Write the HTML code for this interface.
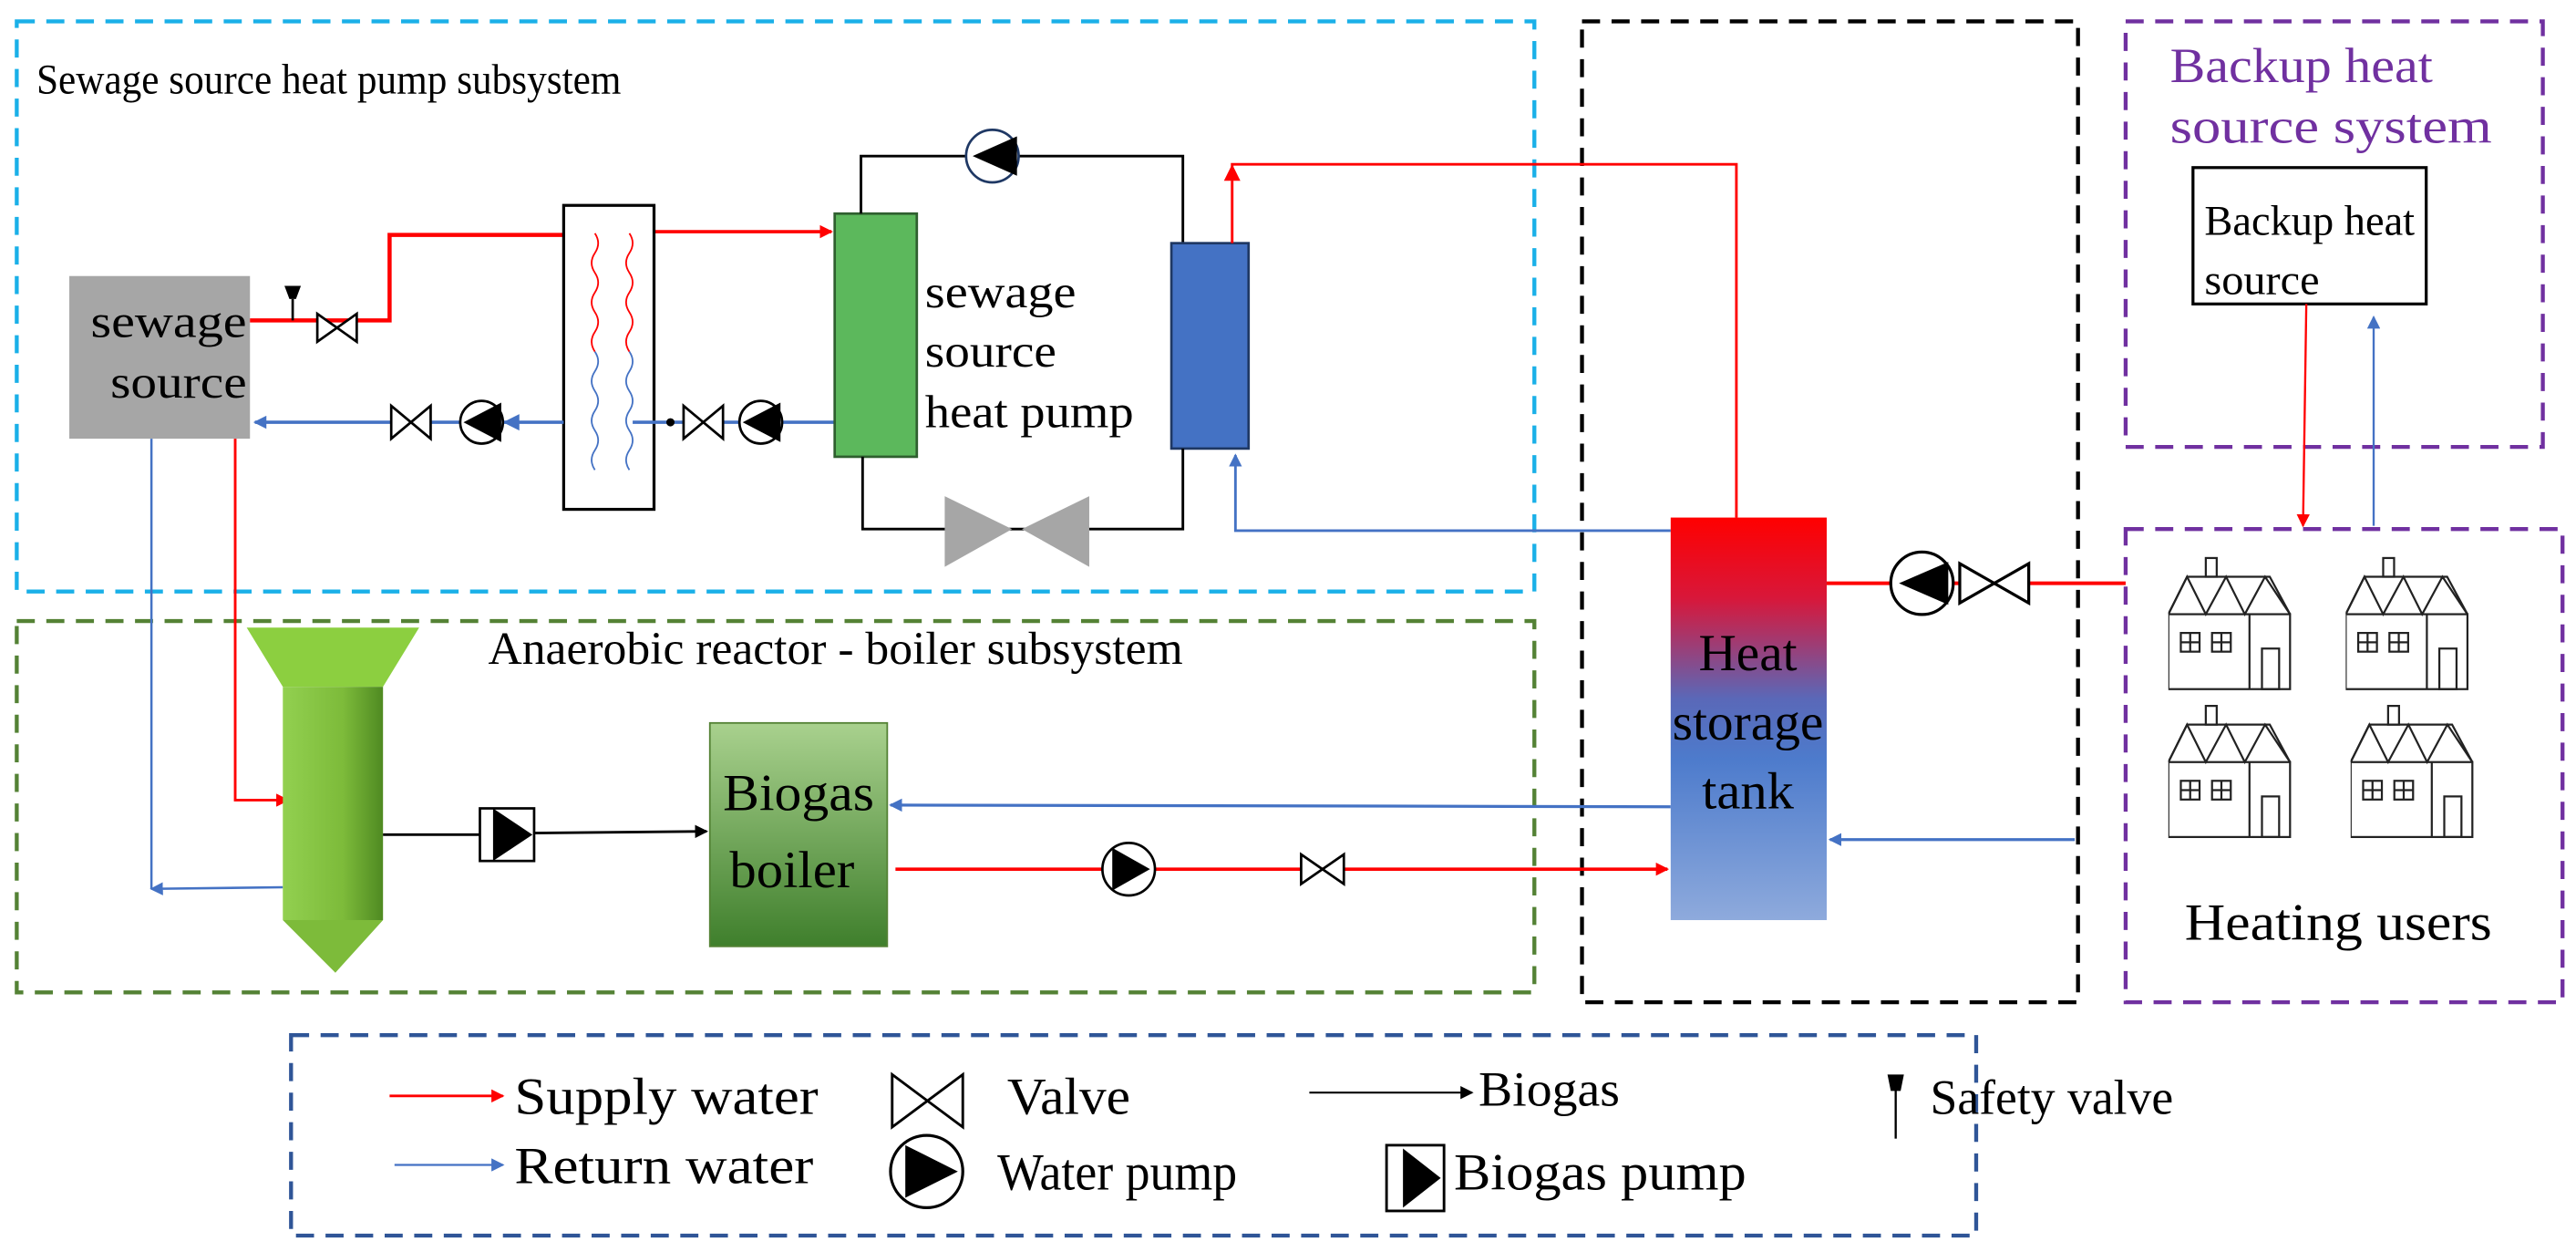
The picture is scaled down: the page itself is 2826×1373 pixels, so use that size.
<!DOCTYPE html>
<html><head><meta charset="utf-8"><style>html,body{margin:0;padding:0;background:#fff}svg{display:block}</style></head><body>
<svg width="2826" height="1373" viewBox="0 0 1568 762" xmlns="http://www.w3.org/2000/svg" font-family="Liberation Serif, serif">
<defs>
<marker id="ar" markerWidth="8" markerHeight="8" refX="7" refY="4" orient="auto" markerUnits="userSpaceOnUse"><path d="M0,0 L8,4 L0,8Z" fill="#f00"/></marker>
<marker id="ab" markerWidth="8" markerHeight="8" refX="7" refY="4" orient="auto" markerUnits="userSpaceOnUse"><path d="M0,0 L8,4 L0,8Z" fill="#4472c4"/></marker>
<marker id="ak" markerWidth="8" markerHeight="8" refX="7" refY="4" orient="auto" markerUnits="userSpaceOnUse"><path d="M0,0 L8,4 L0,8Z" fill="#000"/></marker>
<linearGradient id="tank" x1="0" y1="0" x2="0" y2="1"><stop offset="0" stop-color="#f00"/><stop offset="0.2" stop-color="#d8173a"/><stop offset="0.45" stop-color="#5a68b8"/><stop offset="0.6" stop-color="#4d7bcc"/><stop offset="1" stop-color="#8eaadc"/></linearGradient>
<linearGradient id="boil" x1="0" y1="0" x2="0" y2="1"><stop offset="0" stop-color="#a9d18e"/><stop offset="1" stop-color="#3f7f2c"/></linearGradient>
<linearGradient id="reac" x1="0" y1="0" x2="1" y2="0"><stop offset="0" stop-color="#92d050"/><stop offset="0.6" stop-color="#7dbb3a"/><stop offset="1" stop-color="#4f8a22"/></linearGradient>
<symbol id="house" viewBox="0 0 80 85"><g fill="none" stroke="#222" stroke-width="1.3"><rect x="24" y="0" width="7" height="12"/><path d="M0,36 L12,12 L65,12 L78,36"/><path d="M0,36 L12,12 L24,36 L37,12 L49,36 L62,12 L78,36"/><rect x="0" y="36" width="78" height="48"/><line x1="52" y1="36" x2="52" y2="84"/><rect x="8" y="48" width="12" height="12"/><line x1="14" y1="48" x2="14" y2="60"/><line x1="8" y1="54" x2="20" y2="54"/><rect x="28" y="48" width="12" height="12"/><line x1="34" y1="48" x2="34" y2="60"/><line x1="28" y1="54" x2="40" y2="54"/><rect x="60" y="58" width="11" height="26"/></g></symbol>
</defs>
<g fill="none" stroke-width="2.4" stroke-dasharray="11,7">
<rect x="10" y="13" width="924" height="347" stroke="#1ab0e8"/>
<rect x="10" y="378" width="924" height="226" stroke="#548235"/>
<rect x="963" y="13" width="302" height="597" stroke="#000"/>
<rect x="1294" y="13" width="254" height="259" stroke="#7030a0"/>
<rect x="1294" y="322" width="266" height="288" stroke="#7030a0"/>
<rect x="177" y="630" width="1026" height="122" stroke="#2f5597"/>
</g>
<text x="22" y="57" font-size="26" textLength="356" lengthAdjust="spacingAndGlyphs">Sewage source heat pump subsystem</text>
<text x="297" y="404" font-size="28" textLength="423" lengthAdjust="spacingAndGlyphs">Anaerobic reactor - boiler subsystem</text>
<text x="1321" y="50" font-size="30" fill="#7030a0" textLength="160" lengthAdjust="spacingAndGlyphs">Backup heat</text>
<text x="1321" y="87" font-size="30" fill="#7030a0" textLength="196" lengthAdjust="spacingAndGlyphs">source system</text>
<rect x="42" y="168" width="110" height="99" fill="#a6a6a6"/>
<text x="55" y="205" font-size="28" textLength="95" lengthAdjust="spacingAndGlyphs">sewage</text>
<text x="67" y="242" font-size="28" textLength="83" lengthAdjust="spacingAndGlyphs">source</text>
<polyline points="152,195 237,195 237,143 345,143" fill="none" stroke="#f00" stroke-width="2.5"/>
<line x1="398" y1="141" x2="506" y2="141" stroke="#f00" stroke-width="2" marker-end="url(#ar)"/>
<line x1="178" y1="182" x2="178" y2="195" stroke="#000" stroke-width="1.5"/>
<path d="M173,174 L183,174 L180,182 L176,182Z" fill="#000"/>
<path d="M193,191 L193,208 L217,191 L217,208Z" fill="#fff" stroke="#000" stroke-width="1.5"/>
<rect x="343" y="125" width="55" height="185" fill="#fff" stroke="#000" stroke-width="1.8"/>
<path d="M362,142 q4,6 0,12 q-4,6 0,12 q4,6 0,12 q-4,6 0,12 q4,6 0,12 q-4,6 0,12" fill="none" stroke="#f00" stroke-width="1"/>
<path d="M362,214 q4,6 0,12 q-4,6 0,12 q4,6 0,12 q-4,6 0,12 q4,6 0,12 q-4,6 0,12" fill="none" stroke="#4472c4" stroke-width="1"/>
<path d="M383,142 q4,6 0,12 q-4,6 0,12 q4,6 0,12 q-4,6 0,12 q4,6 0,12 q-4,6 0,12" fill="none" stroke="#f00" stroke-width="1"/>
<path d="M383,214 q4,6 0,12 q-4,6 0,12 q4,6 0,12 q-4,6 0,12 q4,6 0,12 q-4,6 0,12" fill="none" stroke="#4472c4" stroke-width="1"/>
<line x1="508" y1="257" x2="385" y2="257" stroke="#4472c4" stroke-width="2"/>
<circle cx="408" cy="257" r="2.5" fill="#000"/>
<path d="M416,247 L416,267 L440,247 L440,267Z" fill="#fff" stroke="#000" stroke-width="1.5"/>
<circle cx="463" cy="257" r="13" fill="#fff" stroke="#000" stroke-width="1.5"/><path d="M475,245 L452,257 L475,269Z" fill="#000"/>
<line x1="343" y1="257" x2="155" y2="257" stroke="#4472c4" stroke-width="2" marker-end="url(#ab)"/>
<path d="M316,252 L306,257 L316,262Z" fill="#4472c4"/>
<path d="M238,247 L238,267 L262,247 L262,267Z" fill="#fff" stroke="#000" stroke-width="1.5"/>
<circle cx="293" cy="257" r="13" fill="#fff" stroke="#000" stroke-width="1.5"/><path d="M305,245 L282,257 L305,269Z" fill="#000"/>
<rect x="508" y="130" width="50" height="148" fill="#5cb85c" stroke="#2f5f2f" stroke-width="1.5"/>
<text x="563" y="187" font-size="28" textLength="92" lengthAdjust="spacingAndGlyphs">sewage</text>
<text x="563" y="223" font-size="28" textLength="80" lengthAdjust="spacingAndGlyphs">source</text>
<text x="563" y="260" font-size="28" textLength="127" lengthAdjust="spacingAndGlyphs">heat pump</text>
<polyline points="524,130 524,95 720,95 720,148" fill="none" stroke="#000" stroke-width="1.6"/>
<circle cx="604" cy="95" r="16" fill="#fff" stroke="#1f3864" stroke-width="1.5"/><path d="M619,83 L592,95 L619,107Z" fill="#000"/>
<rect x="713" y="148" width="47" height="125" fill="#4472c4" stroke="#1f3864" stroke-width="1.5"/>
<polyline points="525,278 525,322 720,322 720,273" fill="none" stroke="#000" stroke-width="1.6"/>
<path d="M575,302 L616,322 L575,345Z M663,302 L622,322 L663,345Z" fill="#a6a6a6"/>
<polyline points="1057,315 1057,100 750,100 750,110" fill="none" stroke="#f00" stroke-width="1.6"/>
<path d="M745,110 L750,100 L755,110Z" fill="#f00"/>
<line x1="750" y1="110" x2="750" y2="148" stroke="#f00" stroke-width="1.6"/>
<polyline points="1017,323 752,323 752,277" fill="none" stroke="#4472c4" stroke-width="1.6" marker-end="url(#ab)"/>
<polyline points="92,267 92,541" fill="none" stroke="#4472c4" stroke-width="1.4"/>
<line x1="172" y1="540" x2="92" y2="541" stroke="#4472c4" stroke-width="1.4" marker-end="url(#ab)"/>
<polyline points="143,267 143,487 175,487" fill="none" stroke="#f00" stroke-width="1.6" marker-end="url(#ar)"/>
<path d="M150,382 L255,382 L233,418 L172,418Z" fill="#8ccf40"/>
<rect x="172" y="418" width="61" height="142" fill="url(#reac)"/>
<path d="M172,560 L233,560 L204,592Z" fill="#7dbb3a"/>
<line x1="233" y1="508" x2="292" y2="508" stroke="#000" stroke-width="1.6"/>
<rect x="292" y="492" width="33" height="32" fill="#fff" stroke="#000" stroke-width="1.5"/>
<path d="M300,492 L324,508 L300,524Z" fill="#000"/>
<line x1="325" y1="507" x2="430" y2="506" stroke="#000" stroke-width="1.6" marker-end="url(#ak)"/>
<rect x="432" y="440" width="108" height="136" fill="url(#boil)" stroke="#548235" stroke-width="1"/>
<text x="440" y="493" font-size="32" textLength="92" lengthAdjust="spacingAndGlyphs">Biogas</text>
<text x="444" y="540" font-size="32" textLength="76" lengthAdjust="spacingAndGlyphs">boiler</text>
<line x1="1017" y1="491" x2="542" y2="490" stroke="#4472c4" stroke-width="1.8" marker-end="url(#ab)"/>
<line x1="545" y1="529" x2="1015" y2="529" stroke="#f00" stroke-width="2" marker-end="url(#ar)"/>
<circle cx="687" cy="529" r="16" fill="#fff" stroke="#000" stroke-width="1.5"/><path d="M677,516 L700,529 L677,542Z" fill="#000"/>
<path d="M792,520 L792,538 L818,520 L818,538Z" fill="#fff" stroke="#000" stroke-width="1.5"/>
<rect x="1017" y="315" width="95" height="245" fill="url(#tank)"/>
<text x="1064" y="408" font-size="32" text-anchor="middle" textLength="60" lengthAdjust="spacingAndGlyphs">Heat</text>
<text x="1064" y="450" font-size="32" text-anchor="middle" textLength="92" lengthAdjust="spacingAndGlyphs">storage</text>
<text x="1064" y="492" font-size="32" text-anchor="middle" textLength="56" lengthAdjust="spacingAndGlyphs">tank</text>
<line x1="1112" y1="355" x2="1294" y2="355" stroke="#f00" stroke-width="2.2"/>
<circle cx="1170" cy="355" r="19" fill="#fff" stroke="#000" stroke-width="1.8"/><path d="M1186,342 L1156,355 L1186,368Z" fill="#000"/>
<path d="M1193,343 L1193,367 L1235,343 L1235,367Z" fill="#fff" stroke="#000" stroke-width="1.8"/>
<line x1="1263" y1="511" x2="1114" y2="511" stroke="#4472c4" stroke-width="1.8" marker-end="url(#ab)"/>
<rect x="1335" y="102" width="142" height="83" fill="#fff" stroke="#000" stroke-width="1.8"/>
<text x="1342" y="143" font-size="26" textLength="128" lengthAdjust="spacingAndGlyphs">Backup heat</text>
<text x="1342" y="179" font-size="26" textLength="70" lengthAdjust="spacingAndGlyphs">source</text>
<line x1="1404" y1="185" x2="1402" y2="320" stroke="#f00" stroke-width="1.3" marker-end="url(#ar)"/>
<line x1="1445" y1="320" x2="1445" y2="193" stroke="#4472c4" stroke-width="1.3" marker-end="url(#ab)"/>
<use href="#house" x="1320" y="338" width="76" height="84"/>
<use href="#house" x="1428" y="338" width="76" height="84"/>
<use href="#house" x="1320" y="428" width="76" height="84"/>
<use href="#house" x="1431" y="428" width="76" height="84"/>
<text x="1330" y="572" font-size="32" textLength="187" lengthAdjust="spacingAndGlyphs">Heating users</text>
<line x1="237" y1="667" x2="306" y2="667" stroke="#f00" stroke-width="1.6" marker-end="url(#ar)"/>
<text x="313" y="678" font-size="32" textLength="185" lengthAdjust="spacingAndGlyphs">Supply water</text>
<line x1="240" y1="709" x2="306" y2="709" stroke="#4472c4" stroke-width="1.3" marker-end="url(#ab)"/>
<text x="313" y="720" font-size="32" textLength="182" lengthAdjust="spacingAndGlyphs">Return water</text>
<path d="M543,654 L543,686 L586,654 L586,686Z" fill="#fff" stroke="#000" stroke-width="1.6"/>
<text x="613" y="678" font-size="32" textLength="75" lengthAdjust="spacingAndGlyphs">Valve</text>
<circle cx="564" cy="713" r="22" fill="#fff" stroke="#000" stroke-width="1.8"/><path d="M551,697 L583,713 L551,729Z" fill="#000"/>
<text x="607" y="724" font-size="32" textLength="146" lengthAdjust="spacingAndGlyphs">Water pump</text>
<line x1="797" y1="665" x2="896" y2="665" stroke="#000" stroke-width="1.2" marker-end="url(#ak)"/>
<text x="900" y="673" font-size="30" textLength="86" lengthAdjust="spacingAndGlyphs">Biogas</text>
<rect x="844" y="697" width="35" height="40" fill="#fff" stroke="#000" stroke-width="1.6"/>
<path d="M854,699 L877,717 L854,735Z" fill="#000"/>
<text x="885" y="724" font-size="32" textLength="178" lengthAdjust="spacingAndGlyphs">Biogas pump</text>
<line x1="1154" y1="663" x2="1154" y2="693" stroke="#000" stroke-width="1.3"/>
<path d="M1149,654 L1159,654 L1157,664 L1151,664Z" fill="#000"/>
<text x="1175" y="678" font-size="30" textLength="148" lengthAdjust="spacingAndGlyphs">Safety valve</text>
</svg>
</body></html>
